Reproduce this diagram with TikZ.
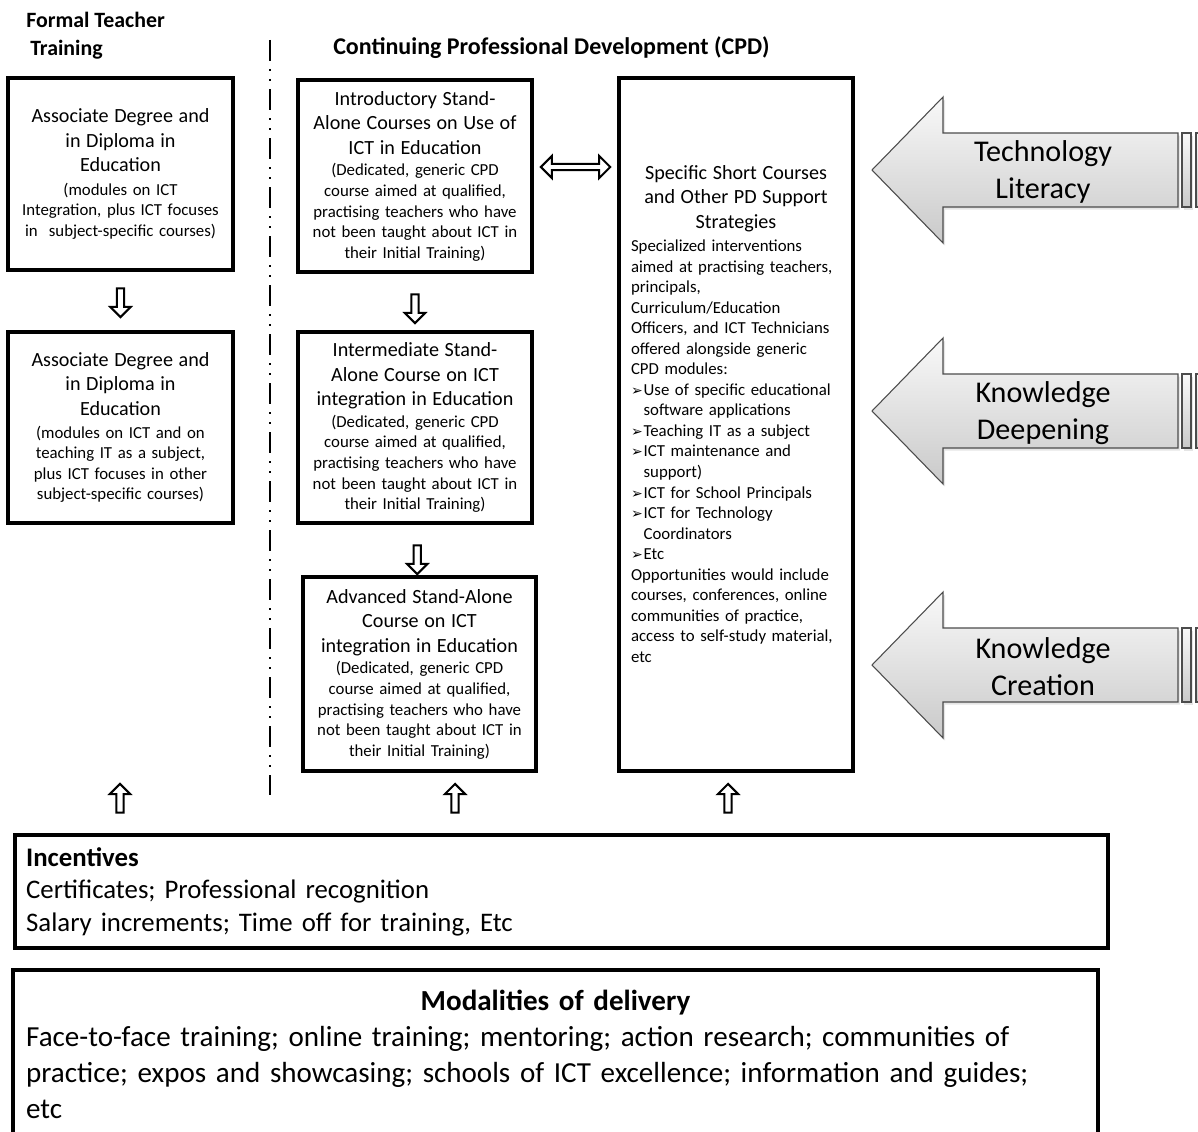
\documentclass[tikz,border=0pt]{standalone}
\usepackage{fontspec}
\setmainfont{Carlito}
\newfontfamily\symfont{DejaVu Sans}
\usetikzlibrary{shapes.arrows,shadows,calc}

\newcommand\fsmain{\fontsize{15.1}{18.4}\selectfont}
\newcommand\fssmall{\fontsize{12.6}{15.4}\selectfont}
\newcommand\fstitle{\fontsize{16.4}{21}\selectfont\bfseries}
\newcommand\fscpd{\fontsize{18}{21}\selectfont\bfseries}
\newcommand\fsarrow{\fontsize{22.6}{27.75}\selectfont}
\newcommand\fsinc{\fontsize{20.1}{24.4}\selectfont}
\newcommand\fsmod{\fontsize{21.8}{27}\selectfont}
\newcommand\litem{\makebox[9.5pt][l]{\symfont\fontsize{10.5}{10}\selectfont ➢}}
\newcommand\lind{\hspace*{9.5pt}}

\tikzset{
  box/.style={draw, line width=2.4pt, inner sep=0pt, align=center, font=\fssmall},
  blockarr/.style={single arrow, draw, line width=1.5pt, fill=white, inner xsep=0pt,
    inner ysep=1.9pt, minimum height=21.5pt, single arrow head extend=5pt},
  botharr/.style={double arrow, draw, line width=1.5pt, fill=white, inner xsep=0pt,
    inner ysep=1.6pt, minimum height=52pt, double arrow head extend=6pt},
  bigarrow/.style={draw=black!70, line width=0.8pt, top color=gray!5, bottom color=gray!42,
    drop shadow={shadow xshift=1.5pt, shadow yshift=-2pt, opacity=.2}},
  divline/.style={line width=1.5pt, dash pattern=on 15.75pt off 6pt on 1.5pt off 6pt on 1.5pt off 6pt}
}

\begin{document}
\begin{tikzpicture}[x=0.75pt,y=-0.75pt]

    \path[use as bounding box, fill=white] (0,0) rectangle (1198,1131);

    % column titles
    \node[anchor=north west, inner sep=0pt, align=left, font=\fstitle] (fttitle) at (26,12) {Formal Teacher\\\hspace*{3pt}Training};
    \node[anchor=west, inner sep=0pt, font=\fscpd] (cpdtitle) at (333,48) {Continuing Professional Development (CPD)};

    \draw[divline] (270,40) -- (270,795);

    % formal teacher training
    \node[box, minimum width=168.75pt, minimum height=144pt, text width=160pt] (deg1) at (120.5,174)
        {{\fsmain Associate Degree and\\ in Diploma in\\ Education\par}\vskip2pt
        (modules on ICT\\ Integration, plus ICT focuses\\ in\ \ subject-specific courses)};
    \node[box, minimum width=168.75pt, minimum height=143.25pt, text width=160pt] (deg2) at (120.5,427.5)
        {{\fsmain Associate Degree and\\ in Diploma in\\ Education\par}\vskip2pt
        (modules on ICT and on\\ teaching IT as a subject,\\ plus ICT focuses in other\\ subject-specific courses)};

    % stand-alone courses
    \node[box, minimum width=175.5pt, minimum height=144pt, text width=168pt] (intro) at (415,176)
        {{\fsmain Introductory Stand-\\ Alone Courses on Use of\\ ICT in Education\par}\vskip1pt
        (Dedicated, generic CPD\\ course aimed at qualified,\\ practising teachers who have\\ not been taught about ICT in\\ their Initial Training)};
    \node[box, minimum width=175.5pt, minimum height=143.25pt, text width=168pt] (inter) at (415,427.5)
        {{\fsmain Intermediate Stand-\\ Alone Course on ICT\\ integration in Education\par}\vskip1pt
        (Dedicated, generic CPD\\ course aimed at qualified,\\ practising teachers who have\\ not been taught about ICT in\\ their Initial Training)};
    \node[box, minimum width=174.75pt, minimum height=145.5pt, text width=168pt] (adv) at (419.5,674)
        {{\fsmain Advanced Stand-Alone\\ Course on ICT\\ integration in Education\par}\vskip1pt
        (Dedicated, generic CPD\\ course aimed at qualified,\\ practising teachers who have\\ not been taught about ICT in\\ their Initial Training)};

    % specific short courses
    \node[box, minimum width=175.5pt, minimum height=519.75pt, text width=157.5pt, align=left] (spec) at (736,424.5)
        {{\centering\fsmain Specific Short Courses\\ and Other PD Support\\ Strategies\par}\vskip2pt
        Specialized interventions\\ aimed at practising teachers,\\ principals,\\ Curriculum/Education\\
        Officers, and ICT Technicians\\ offered alongside generic\\ CPD modules:\\
        \litem Use of specific educational\\ \lind software applications\\
        \litem Teaching IT as a subject\\
        \litem ICT maintenance and\\ \lind support)\\
        \litem ICT for School Principals\\
        \litem ICT for Technology\\ \lind Coordinators\\
        \litem Etc\\
        Opportunities would include\\ courses, conferences, online\\ communities of practice,\\
        access to self-study material,\\ etc\rule[-16pt]{0pt}{16pt}};

    % arrows between boxes
    \node[blockarr, rotate=-90] (a1) at ($(deg1.south)!0.5!(deg2.north)$) {};
    \node[blockarr, rotate=-90, xshift=3.75pt] (a2) at ($(intro.south)!0.5!(inter.north)$) {};
    \node[blockarr, rotate=-90, xshift=6pt] (a3) at ($(inter.south)!0.5!(adv.north)$) {};
    \node[botharr, yshift=6.75pt] (a4) at ($(intro.east)!0.5!(intro.east -| spec.west)$) {};
    \node[blockarr, rotate=90] (up1) at (120,800) {};
    \node[blockarr, rotate=90] (up2) at (455,800) {};
    \node[blockarr, rotate=90] (up3) at (728,800) {};

    % incentives and modalities
    \node[box, minimum width=819.75pt, minimum height=84.75pt, text width=803pt, align=left, font=\fsinc] (inc) at (561.5,891.5)
        {\textbf{Incentives}\\ Certificates; Professional recognition\\ Salary increments; Time off for training, Etc};
    \node[box, minimum width=813.75pt, minimum height=126pt, text width=794pt, align=left, font=\fsmod] (mod) at (555.5,1054)
        {{\centering\bfseries Modalities of delivery\par}
        Face-to-face training; online training; mentoring; action research; communities of\\
        practice; expos and showcasing; schools of ICT excellence; information and guides;\\ etc};

    % competency approaches
    \foreach \yc/\nm/\txt in {170/techlit/{Technology\\Literacy}, 411/knowdeep/{Knowledge\\Deepening}, 665/knowcre/{Knowledge\\Creation}}{
        \draw[bigarrow] (872,\yc) -- (943,\yc-73) -- (943,\yc-37) -- (1178,\yc-37) -- (1178,\yc+37) -- (943,\yc+37) -- (943,\yc+73) -- cycle;
        \draw[bigarrow] (1182,\yc-37) rectangle (1191,\yc+37);
        \draw[bigarrow] (1196,\yc-37) rectangle (1212,\yc+37);
        \node[font=\fsarrow, align=center, text width=200pt] (\nm) at (1043,\yc+2) {\txt};
    }
\end{tikzpicture}
\end{document}
